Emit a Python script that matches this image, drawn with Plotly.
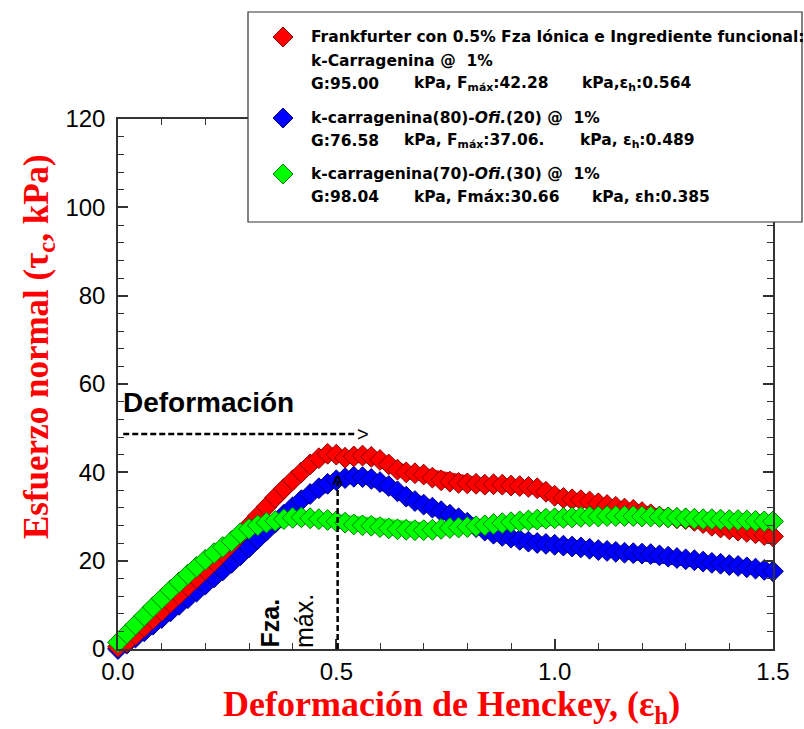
import plotly.graph_objects as go

# ---------------- data ----------------
eps = [0.00, 0.02, 0.04, 0.06, 0.08, 0.10, 0.12, 0.14, 0.16, 0.18,
       0.20, 0.22, 0.24, 0.26, 0.28, 0.30, 0.32, 0.34, 0.36, 0.38,
       0.40, 0.42, 0.44, 0.46, 0.48, 0.50, 0.52, 0.54, 0.56, 0.58,
       0.60, 0.62, 0.64, 0.66, 0.68, 0.70, 0.72, 0.74, 0.76, 0.78,
       0.80, 0.82, 0.84, 0.86, 0.88, 0.90, 0.92, 0.94, 0.96, 0.98,
       1.00, 1.02, 1.04, 1.06, 1.08, 1.10, 1.12, 1.14, 1.16, 1.18,
       1.20, 1.22, 1.24, 1.26, 1.28, 1.30, 1.32, 1.34, 1.36, 1.38,
       1.40, 1.42, 1.44, 1.46, 1.48, 1.50]

red_kcarr = [0.5, 1.5, 3.2, 5.0, 6.8, 8.6, 10.5, 12.3, 14.2, 16.0,
             17.9, 19.8, 21.8, 23.8, 25.9, 28.0, 30.1, 32.2, 34.3, 36.3,
             38.2, 40.0, 41.8, 43.2, 44.2, 44.0, 43.3, 43.6, 43.8, 43.5,
             42.8, 41.8, 40.6, 40.0, 39.8, 39.5, 38.8, 38.2, 37.9, 37.6,
             37.5, 37.4, 37.2, 37.3, 37.2, 37.0, 36.9, 36.7, 36.4, 35.6,
             34.7, 34.2, 33.9, 33.7, 33.4, 33.0, 32.6, 32.2, 31.8, 31.5,
             31.0, 30.5, 30.0, 29.8, 29.6, 29.4, 29.0, 28.5, 27.9, 27.5,
             27.1, 26.8, 26.5, 26.2, 25.8, 25.5]

blue_80_20 = [0.0, 1.2, 2.6, 4.0, 5.5, 7.0, 8.5, 10.0, 11.5, 13.0,
              14.6, 16.2, 17.8, 19.5, 21.2, 23.0, 24.9, 26.8, 28.6, 30.4,
              32.1, 33.7, 35.1, 36.4, 37.4, 38.2, 38.7, 39.0, 38.9, 38.5,
              37.8, 36.9, 35.7, 34.5, 33.5, 32.7, 32.0, 31.2, 30.4, 29.6,
              28.6, 27.6, 26.8, 26.1, 25.6, 25.2, 24.7, 24.3, 24.0, 23.8,
              23.6, 23.4, 23.2, 23.0, 22.7, 22.4, 22.2, 22.0, 21.8, 21.7,
              21.6, 21.5, 21.2, 20.9, 20.6, 20.3, 20.1, 19.8, 19.5, 19.3,
              19.0, 18.8, 18.5, 18.2, 17.9, 17.6]

green_70_30 = [1.5, 3.5, 5.5, 7.5, 9.5, 11.4, 13.3, 15.1, 16.9, 18.6,
               20.2, 21.7, 23.1, 24.4, 26.2, 27.2, 28.0, 28.6, 29.0, 29.4,
               29.7, 29.8, 29.6, 29.4, 29.2, 28.9, 28.6, 28.2, 28.0, 27.9,
               27.6, 27.3, 27.1, 27.0, 26.9, 26.9, 27.0, 27.2, 27.4, 27.5,
               27.6, 27.8, 28.0, 28.3, 28.5, 28.7, 28.9, 29.1, 29.3, 29.5,
               29.6, 29.7, 29.8, 29.9, 30.0, 30.0, 30.1, 30.1, 30.1, 30.1,
               30.0, 30.0, 29.9, 29.8, 29.7, 29.6, 29.5, 29.4, 29.4, 29.3,
               29.2, 29.2, 29.1, 29.0, 28.9, 28.9]

x_tick_vals = [0.0, 0.5, 1.0, 1.5]
x_tick_text = ["0.0", "0.5", "1.0", "1.5"]
y_tick_vals = [0, 20, 40, 60, 80, 100, 120]
y_tick_text = ["0", "20", "40", "60", "80", "100", "120"]

legend_lines = [
    "Frankfurter con 0.5% Fza Iónica e Ingrediente funcional:",
    "k-Carragenina @  1%",
    "k-carragenina(80)-<i>Ofi.</i>(20) @  1%",
    "k-carragenina(70)-<i>Ofi.</i>(30) @  1%",
]
stats_red = ["G:95.00", "kPa, F<sub>máx</sub>:42.28", "kPa,ε<sub>h</sub>:0.564"]
stats_blue = ["G:76.58", "kPa, F<sub>máx</sub>:37.06.", "kPa, ε<sub>h</sub>:0.489"]
stats_green = ["G:98.04", "kPa, Fmáx:30.66", "kPa, εh:0.385"]

# ---------------- layout geometry ----------------
W, H = 804, 729
L, R, T, B = 118, 773, 119, 649


def px(x):
    return (x - L) / (R - L)


def py(y):
    return (B - y) / (B - T)


SANS = "Liberation Sans, Arial, sans-serif"
LEGF = "DejaVu Sans, Liberation Sans, sans-serif"
SERIF = "Liberation Serif, Times New Roman, serif"

fig = go.Figure()

series = [
    (blue_80_20, "#0000ff", "#00007a"),
    (red_kcarr, "#ff0000", "#8a0000"),
    (green_70_30, "#00ff00", "#007a00"),
]
for vals, fill, edge in series:
    fig.add_trace(go.Scatter(
        x=eps, y=vals, mode="lines+markers", cliponaxis=False, showlegend=False,
        line=dict(color=fill, width=13),
        marker=dict(symbol="diamond", size=16, color=fill,
                    line=dict(color=edge, width=1)),
        hoverinfo="skip",
    ))

axis_common = dict(
    showgrid=False, zeroline=False, showline=True, linewidth=1.5,
    linecolor="#333333", mirror="ticks", ticks="inside", ticklen=10,
    tickwidth=1.5, tickcolor="#333333",
    tickfont=dict(family=SANS, size=24, color="black"),
)
fig.update_xaxes(range=[0, 1.5], tickvals=x_tick_vals, ticktext=x_tick_text,
                 minor=dict(dtick=0.1, tick0=0, ticks="inside", ticklen=6,
                            tickwidth=1.2, tickcolor="#333333"),
                 **axis_common)
fig.update_yaxes(range=[0, 120], tickvals=y_tick_vals, ticktext=y_tick_text,
                 ticklabelstandoff=6,
                 minor=dict(dtick=4, tick0=0, ticks="inside", ticklen=6,
                            tickwidth=1.2, tickcolor="#333333"),
                 **axis_common)

shapes = []
annotations = []

# dashed arrows
shapes.append(dict(type="line", xref="x", yref="y", x0=0.012, x1=0.545,
                   y0=48.7, y1=48.7, line=dict(color="black", width=2.5, dash="6px,3px")))
shapes.append(dict(type="line", xref="x", yref="y", x0=0.503, x1=0.503,
                   y0=0, y1=38.0, line=dict(color="black", width=2.5, dash="6px,3px")))
annotations.append(dict(xref="x", yref="y", x=0.562, y=48.7, text="&gt;",
                        showarrow=False, font=dict(family=SANS, size=20, color="black"),
                        xanchor="center", yanchor="middle"))
annotations.append(dict(xref="x", yref="y", x=0.503, y=37.5, text="<b>^</b>",
                        showarrow=False, font=dict(family=SANS, size=20, color="black"),
                        xanchor="center", yanchor="middle"))
annotations.append(dict(xref="paper", yref="paper", x=px(121), y=py(402),
                        text="<b>Deformación</b>", showarrow=False,
                        font=dict(family=SANS, size=28, color="black"),
                        xanchor="left", yanchor="middle"))
annotations.append(dict(xref="paper", yref="paper", x=px(269), y=py(650),
                        text="<b>Fza.</b>", showarrow=False, textangle=-90,
                        font=dict(family=SANS, size=25, color="black"),
                        xanchor="center", yanchor="bottom"))
annotations.append(dict(xref="paper", yref="paper", x=px(304), y=py(650),
                        text="máx.", showarrow=False, textangle=-90,
                        font=dict(family=SANS, size=25, color="black"),
                        xanchor="center", yanchor="bottom"))

# axis titles
annotations.append(dict(xref="paper", yref="paper", x=px(38), y=py(347),
                        text="<b>Esfuerzo normal (τ<sub>c</sub>, kPa)</b>",
                        showarrow=False, textangle=-90,
                        font=dict(family=SERIF, size=35, color="#ff0000"),
                        xanchor="center", yanchor="middle"))
annotations.append(dict(xref="paper", yref="paper", x=px(451), y=py(706),
                        text="<b>Deformación de Henckey, (ε<sub>h</sub>)</b>",
                        showarrow=False,
                        font=dict(family=SERIF, size=36, color="#ff0000"),
                        xanchor="center", yanchor="middle"))

# legend box
shapes.append(dict(type="rect", xref="paper", yref="paper", layer="above",
                   x0=px(248), x1=px(802), y0=py(222), y1=py(12),
                   fillcolor="white", line=dict(color="#333333", width=1.2)))


def diamond(cx, cy, r, fill, edge):
    pts = [(cx, cy - r), (cx + r, cy), (cx, cy + r), (cx - r, cy)]
    path = "M " + " L ".join(f"{px(a):.5f},{py(b):.5f}" for a, b in pts) + " Z"
    return dict(type="path", xref="paper", yref="paper", layer="above", path=path,
                fillcolor=fill, line=dict(color=edge, width=1))


shapes.append(diamond(283, 37, 10, "#ff0000", "#8a0000"))
shapes.append(diamond(283, 118, 10, "#0000ff", "#00007a"))
shapes.append(diamond(283, 174, 10, "#00ff00", "#007a00"))

LF = dict(family=LEGF, size=15.5, color="black")


def leg_text(x, y, t):
    annotations.append(dict(xref="paper", yref="paper", x=px(x), y=py(y),
                            text=f"<b>{t}</b>", showarrow=False, font=LF,
                            xanchor="left", yanchor="middle"))


leg_text(309, 37, legend_lines[0])
leg_text(309, 61, legend_lines[1])
for xx, t in zip([309, 412, 580], stats_red):
    leg_text(xx, 84, t)
leg_text(309, 118, legend_lines[2])
for xx, t in zip([309, 402, 578], stats_blue):
    leg_text(xx, 141, t)
leg_text(309, 174, legend_lines[3])
for xx, t in zip([309, 412, 590], stats_green):
    leg_text(xx, 197, t)

fig.update_layout(
    width=W, height=H, margin=dict(l=L, r=W - R, t=T, b=H - B),
    paper_bgcolor="white", plot_bgcolor="white",
    shapes=shapes, annotations=annotations, showlegend=False,
)

fig.write_html("out.html", config={"displayModeBar": False},
               post_script="document.body.style.margin='0px';document.body.style.padding='0px';")
